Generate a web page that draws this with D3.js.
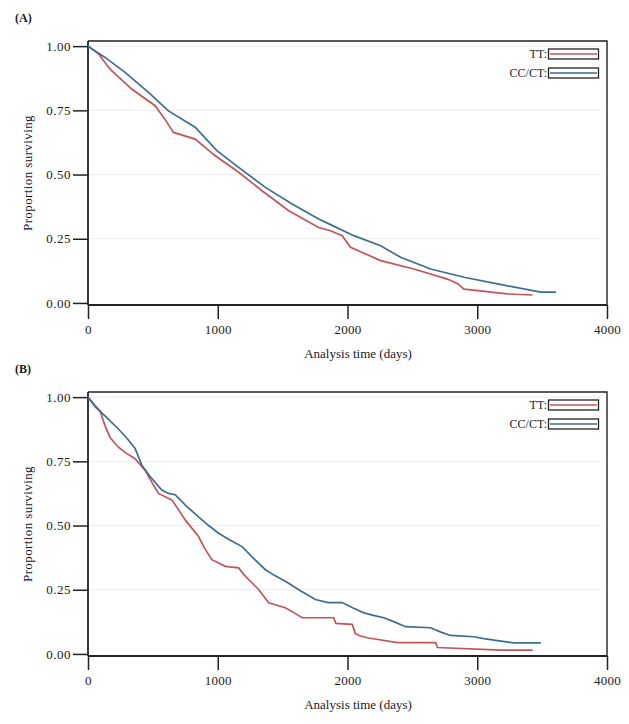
<!DOCTYPE html>
<html>
<head>
<meta charset="utf-8">
<script src="https://cdn.jsdelivr.net/npm/d3@7"></script>
<style>
  body { margin: 0; background: #fff; }
  text { font-family: "Liberation Serif", "DejaVu Serif", serif; fill: #1a1a1a; }
</style>
</head>
<body>
<svg id="chart"></svg>
<script>
const X_TICKS = [0, 1000, 2000, 3000, 4000];
const Y_TICKS = [0, 0.25, 0.5, 0.75, 1];
const Y_TICK_LABELS = ["0.00", "0.25", "0.50", "0.75", "1.00"];
const SERIES_NAMES = ["TT", "CC/CT"];
const SERIES_COLORS = ["#c4545a", "#3b6e8f"];
const PANEL_LABELS = ["(A)", "(B)"];
const X_TITLE = "Analysis time (days)";
const Y_TITLE = "Proportion surviving";

// panel A, [days, proportion surviving]
const A_TT = [
  [0, 1.0], [80, 0.97], [170, 0.91], [337, 0.833], [517, 0.768], [600, 0.71],
  [659, 0.664], [826, 0.638], [981, 0.573], [1161, 0.509], [1341, 0.437],
  [1547, 0.359], [1778, 0.294], [1869, 0.281], [1959, 0.262], [2023, 0.217],
  [2255, 0.165], [2512, 0.132], [2770, 0.093], [2850, 0.075], [2898, 0.054],
  [3233, 0.035], [3426, 0.031]
];
const A_CC_CT = [
  [0, 1.0], [131, 0.956], [286, 0.898], [466, 0.82], [620, 0.748], [826, 0.684],
  [993, 0.593], [1161, 0.528], [1367, 0.45], [1573, 0.385], [1778, 0.327],
  [1869, 0.305], [2049, 0.262], [2255, 0.223], [2409, 0.178], [2641, 0.132],
  [2898, 0.10], [3156, 0.074], [3490, 0.042], [3606, 0.042]
];

// panel B
const B_TT = [
  [0, 1.0], [50, 0.97], [93, 0.946], [130, 0.89], [170, 0.843], [234, 0.805],
  [300, 0.78], [363, 0.76], [440, 0.715], [490, 0.67], [543, 0.625], [646, 0.60],
  [700, 0.56], [749, 0.522], [800, 0.49], [852, 0.457], [900, 0.41], [955, 0.367],
  [1058, 0.341], [1161, 0.335], [1200, 0.31], [1238, 0.29], [1315, 0.251],
  [1392, 0.199], [1521, 0.18], [1590, 0.16], [1650, 0.141], [1894, 0.141],
  [1910, 0.119], [2036, 0.115], [2060, 0.08], [2087, 0.072], [2152, 0.063],
  [2384, 0.044], [2680, 0.044], [2693, 0.025], [3182, 0.015], [3426, 0.015]
];
const B_CC_CT = [
  [0, 1.0], [60, 0.96], [131, 0.927], [234, 0.876], [300, 0.84], [363, 0.80],
  [415, 0.735], [480, 0.69], [569, 0.638], [620, 0.625], [672, 0.62], [760, 0.575],
  [852, 0.534], [930, 0.50], [1006, 0.47], [1090, 0.445], [1187, 0.418],
  [1280, 0.37], [1367, 0.328], [1440, 0.305], [1521, 0.283], [1640, 0.245],
  [1753, 0.212], [1850, 0.20], [1959, 0.20], [2040, 0.18], [2126, 0.16],
  [2200, 0.15], [2280, 0.141], [2360, 0.125], [2448, 0.106], [2641, 0.102],
  [2720, 0.085], [2795, 0.072], [2975, 0.067], [3050, 0.06], [3130, 0.054],
  [3284, 0.043], [3490, 0.043]
];

const W = 629, H = 724;
const LEFT = 88, RIGHT = 607, PH = 264;
const FONT = "13px";

const svg = d3.select("#chart").attr("width", W).attr("height", H);

function drawPanel(top, label, series) {
  const g = svg.append("g");

  const x = d3.scaleLinear().domain([0, 4000]).range([LEFT, RIGHT]);
  const y = d3.scaleLinear().domain([-0.008, 1.02]).range([top + PH, top]);

  // light gridlines
  g.selectAll("line.grid")
    .data(Y_TICKS.filter(d => d > 0))
    .enter()
    .append("line")
    .attr("x1", LEFT).attr("x2", RIGHT - 5)
    .attr("y1", d => y(d)).attr("y2", d => y(d))
    .style("stroke", "#ececec")
    .style("stroke-width", 1);

  // frame top / right
  g.append("path")
    .attr("d", `M${LEFT},${top}H${RIGHT}V${top + PH}`)
    .attr("fill", "none")
    .style("stroke", "#222")
    .style("stroke-width", 1.4);

  // y axis
  const yAxis = d3.axisLeft(y)
    .tickValues(Y_TICKS)
    .tickFormat((d, i) => Y_TICK_LABELS[i])
    .tickSize(15)
    .tickPadding(2);
  const ya = g.append("g").attr("transform", `translate(${LEFT},0)`).call(yAxis);
  ya.select(".domain").attr("d", `M0,${top}V${top + PH}`).style("stroke", "#222").style("stroke-width", 1.8);
  ya.selectAll(".tick line").style("stroke", "#222").style("stroke-width", 1.5);
  ya.selectAll(".tick text")
    .style("font-family", "Liberation Serif, serif")
    .style("font-size", FONT)
    .style("letter-spacing", "0.5px")
    .style("fill", "#1a1a1a");

  // x axis
  const xAxis = d3.axisBottom(x)
    .tickValues(X_TICKS)
    .tickFormat(d3.format("d"))
    .tickSize(14)
    .tickPadding(6);
  const xa = g.append("g").attr("transform", `translate(0,${top + PH})`).call(xAxis);
  xa.select(".domain").attr("d", `M${LEFT},0H${RIGHT}`).style("stroke", "#222").style("stroke-width", 1.8);
  xa.selectAll(".tick line").style("stroke", "#222").style("stroke-width", 1.5);
  xa.selectAll(".tick text")
    .style("font-family", "Liberation Serif, serif")
    .style("font-size", FONT)
    .style("letter-spacing", "0.3px")
    .style("fill", "#1a1a1a");

  // curves
  const line = d3.line()
    .x(d => x(d[0]))
    .y(d => y(d[1]))
    .curve(d3.curveLinear);

  series.forEach((s, i) => {
    g.append("path")
      .attr("d", line(s))
      .attr("fill", "none")
      .style("stroke", SERIES_COLORS[i])
      .style("stroke-width", 1.7);
  });

  // legend
  const leg = g.append("g");
  SERIES_NAMES.forEach((name, i) => {
    const by = top + 8 + i * 19;
    leg.append("text")
      .attr("x", 547).attr("y", by + 9)
      .attr("text-anchor", "end")
      .style("font-size", "12px")
      .text(name + ":");
    leg.append("rect")
      .attr("x", 548.5).attr("y", by)
      .attr("width", 50).attr("height", 10)
      .attr("fill", "#fff")
      .style("stroke", "#222")
      .style("stroke-width", 1.3);
    leg.append("line")
      .attr("x1", 550).attr("x2", 597)
      .attr("y1", by + 5).attr("y2", by + 5)
      .style("stroke", SERIES_COLORS[i])
      .style("stroke-width", 1.7);
  });

  // titles
  g.append("text")
    .attr("x", 358).attr("y", top + PH + 53)
    .attr("text-anchor", "middle")
    .style("font-size", FONT)
    .text(X_TITLE);

  g.append("text")
    .attr("transform", `translate(32,${top + PH / 2}) rotate(-90)`)
    .attr("text-anchor", "middle")
    .style("font-size", FONT)
    .style("letter-spacing", "0.4px")
    .text(Y_TITLE);

  svg.append("text")
    .attr("x", 15).attr("y", top - 19)
    .style("font-size", "12px")
    .style("font-weight", "bold")
    .text(label);
}

drawPanel(41, PANEL_LABELS[0], [A_TT, A_CC_CT]);
drawPanel(392, PANEL_LABELS[1], [B_TT, B_CC_CT]);
</script>
</body>
</html>
